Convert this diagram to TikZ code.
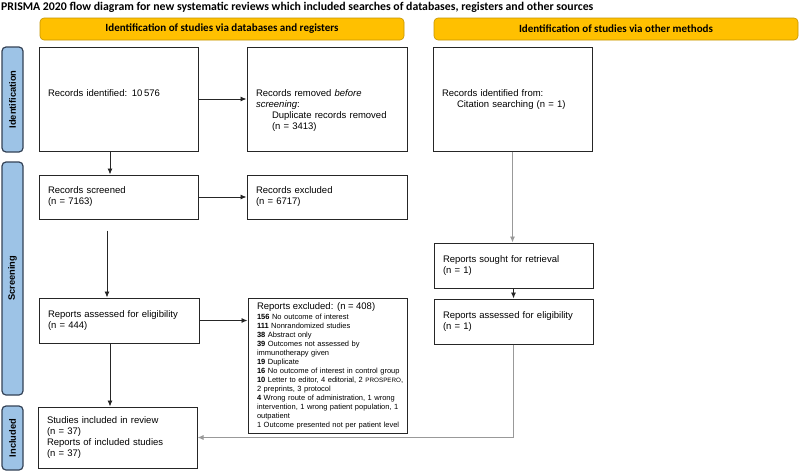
\documentclass[tikz,border=0pt]{standalone}
\usepackage{fontspec}
\setmainfont{Liberation Sans}
\newfontfamily\calibri{Carlito}
\usetikzlibrary{arrows.meta,calc}

\definecolor{headgold}{RGB}{255,192,0}
\definecolor{headedge}{RGB}{196,148,0}
\definecolor{stageblue}{RGB}{157,195,230}
\definecolor{stageedge}{RGB}{52,66,86}

\begin{document}
\begin{tikzpicture}[x=1pt,y=-1pt]
\tikzstyle{box}=[rectangle, draw=black!85, line width=1pt, inner xsep=9pt, text width=141pt, align=left, font=\fontsize{9.5}{11}\selectfont]
\tikzstyle{idbox}=[box, minimum height=104pt, text depth=12pt]
\tikzstyle{small}=[box, minimum height=45pt]
\tikzstyle{head}=[rectangle, rounded corners=4pt, draw=headedge, fill=headgold, line width=0.6pt, minimum width=364pt, minimum height=22pt, font=\calibri\bfseries\fontsize{11}{13}\selectfont]
\tikzstyle{stage}=[rectangle, rounded corners=4pt, draw=stageedge, fill=stageblue, line width=1.2pt, rotate=90, minimum height=21pt, font=\bfseries\fontsize{9.3}{11}\selectfont]
\tikzstyle{connect}=[-{Latex[length=6pt,width=5pt]}, line width=0.9pt, black!85]
\tikzstyle{greyline}=[line width=0.9pt, black!40]

\useasboundingbox (0,0) rectangle (800,471);

\node[anchor=base west, inner sep=0pt, font=\calibri\bfseries\fontsize{11.8}{13}\selectfont] (title) at (1,10)
  {PRISMA 2020 flow diagram for new systematic reviews which included searches of databases, registers and other sources};

% column headers
\node[head] (headdb)    at (222,29) {Identification of studies via databases and registers};
\node[head] (headother) at (616,29) {Identification of studies via other methods};

% stage bars
\node[stage, minimum width=105pt] (stageid)   at (12.5,99.5) {Identification};
\node[stage, minimum width=233pt] (stagescr)  at (12.5,278.5) {Screening};
\node[stage, minimum width=64pt]  (stageincl) at (12.5,438) {Included};

% databases and registers
\node[idbox] (ident)   at (118.5,99) {Records identified: 10\,576};
\node[idbox, text width=142pt] (removed) at (327,99)
  {Records removed \textit{before}\\ \textit{screening}:\\ \hspace*{16pt}Duplicate records removed\\ \hspace*{16pt}(n = 3413)};
\node[small, minimum height=44pt] (screened) at (118.5,197) {Records screened\\ (n = 7163)};
\node[small, minimum height=44pt, text width=142pt] (excluded) at (327,197) {Records excluded\\ (n = 6717)};
\node[small, text width=142pt] (assessed) at (119,320.5) {Reports assessed for eligibility\\ (n = 444)};
\node[box, inner ysep=1pt, minimum height=135pt, font=\fontsize{7.5}{9}\selectfont] (repexcl) at (327.5,365.5)
  {{\fontsize{9.5}{11}\selectfont Reports excluded: (n = 408)}\\[1pt]
   \textbf{156} No outcome of interest\\
   \textbf{111} Nonrandomized studies\\
   \textbf{38} Abstract only\\
   \textbf{39} Outcomes not assessed by\\
   immunotherapy given\\
   \textbf{19} Duplicate\\
   \mbox{\textbf{16} No outcome of interest in control group}\\
   \mbox{\textbf{10} Letter to editor, 4 editorial, 2 {\fontsize{6.3}{9}\selectfont PROSPERO},}\\
   2 preprints, 3 protocol\\
   \mbox{\textbf{4} Wrong route of administration, 1 wrong}\\
   \mbox{intervention, 1 wrong patient population, 1}\\
   outpatient\\
   \mbox{1 Outcome presented not per patient level}};
\node[box, minimum height=61pt] (included) at (117.5,437.5)
  {Studies included in review\\ (n = 37)\\ Reports of included studies\\ (n = 37)};

% other methods
\node[idbox] (othident) at (512.5,99) {Records identified from:\\ \hspace*{15pt}Citation searching (n = 1)};
\node[small] (sought)   at (513.5,265.5) {Reports sought for retrieval\\ (n = 1)};
\node[small] (othassess) at (513.5,321.5) {Reports assessed for eligibility\\ (n = 1)};

% connectors
\path (ident) edge [connect] (removed);
\path (screened) edge [connect] (excluded);
\draw[connect] (assessed.east) -- (assessed.east -| repexcl.west);
\draw[connect] ([xshift=-8.5pt]ident.south) -- ([xshift=-8.5pt]ident.south |- screened.north);
\draw[connect, shorten <=11pt] ([xshift=-11.5pt]screened.south) -- ([xshift=-11.5pt]screened.south |- assessed.north);
\draw[connect] ([xshift=-9pt]assessed.south) -- ([xshift=-9pt]assessed.south |- included.north);

\draw[greyline, -{Latex[length=6pt,width=5pt]}] (othident.south) -- (othident.south |- sought.north);
\draw[connect] (sought.south) -- (othassess.north);
\draw[greyline, -{Latex[length=6pt,width=5pt]}] (othassess.south) |- (included.east);

\end{tikzpicture}
\end{document}
